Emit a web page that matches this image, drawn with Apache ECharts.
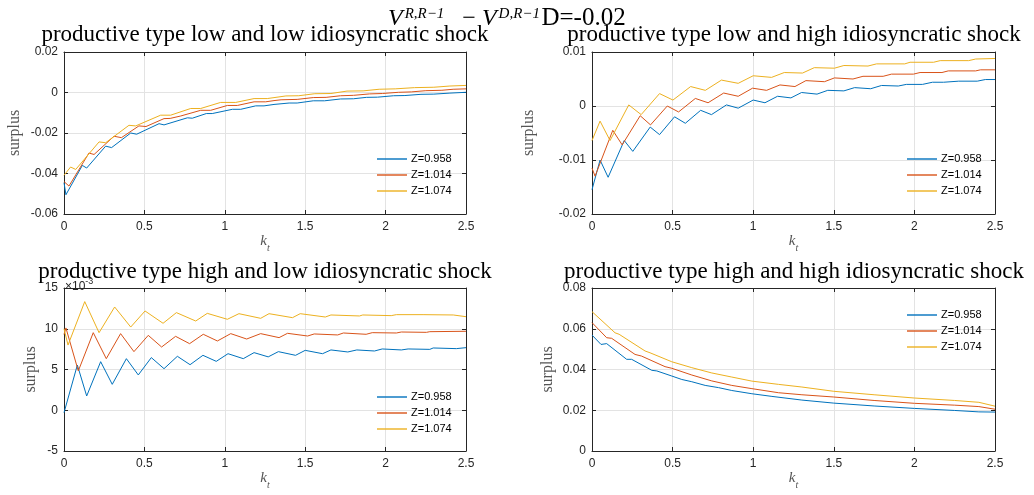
<!DOCTYPE html>
<html>
<head>
<meta charset="utf-8">
<script src="https://cdn.jsdelivr.net/npm/echarts@6/dist/echarts.min.js"></script>
<style>
  html, body { margin: 0; padding: 0; background: #fff; }
  #main { width: 1034px; height: 495px; }
</style>
</head>
<body>
<div id="main"></div>
<script>
  // legend names and MATLAB default line colours
  const zNames = ['Z=0.958', 'Z=1.014', 'Z=1.074']
  const zColors = ['#0072bd', '#d95319', '#edb120']

  const panelTitles = [
    'productive type low and low idiosyncratic shock',
    'productive type low and high idiosyncratic shock',
    'productive type high and low idiosyncratic shock',
    'productive type high and high idiosyncratic shock'
  ]

  // [k_t, surplus] pairs
  // low / low
  const lowLow0958 = [[0, -0.0445], [0.012, -0.0505], [0.114, -0.0360], [0.141, -0.0373], [0.259, -0.0265], [0.296, -0.0272],
    [0.415, -0.0200], [0.452, -0.0206], [0.591, -0.0154], [0.622, -0.0160], [0.767, -0.0125], [0.798, -0.0127],
    [0.885, -0.0104], [0.922, -0.0104], [1.047, -0.0083], [1.099, -0.0083], [1.192, -0.0066], [1.244, -0.0066],
    [1.306, -0.0059], [1.40, -0.0052], [1.45, -0.0052], [1.55, -0.0041], [1.62, -0.0041], [1.72, -0.0032],
    [1.80, -0.0031], [1.88, -0.0024], [1.95, -0.0023], [2.05, -0.0016], [2.12, -0.0015], [2.22, -0.0009],
    [2.30, -0.0008], [2.40, -0.0003], [2.5, 0.0001]]
  const lowLow1014 = [[0, -0.0440], [0.031, -0.0462], [0.155, -0.0299], [0.187, -0.0306], [0.311, -0.0216], [0.357, -0.0223],
    [0.466, -0.0165], [0.51, -0.0168], [0.622, -0.0129], [0.66, -0.0128], [0.726, -0.0116], [0.85, -0.0088],
    [0.912, -0.0088], [1.016, -0.0064], [1.078, -0.0064], [1.182, -0.0046], [1.254, -0.0046], [1.306, -0.0040],
    [1.35, -0.0036], [1.45, -0.0034], [1.55, -0.0025], [1.63, -0.0024], [1.72, -0.0016], [1.80, -0.0014],
    [1.90, -0.0007], [1.98, -0.0005], [2.08, 0.0001], [2.16, 0.0003], [2.25, 0.0009], [2.35, 0.0011],
    [2.42, 0.0016], [2.5, 0.0018]]
  const lowLow1074 = [[0, -0.0409], [0.041, -0.0368], [0.073, -0.0380], [0.218, -0.0244], [0.259, -0.0248], [0.404, -0.0162],
    [0.446, -0.0165], [0.601, -0.0112], [0.663, -0.0112], [0.788, -0.0079], [0.85, -0.0079], [0.974, -0.0049],
    [1.068, -0.0049], [1.182, -0.0030], [1.264, -0.0030], [1.38, -0.0017], [1.46, -0.0016], [1.56, -0.0006],
    [1.66, -0.0005], [1.76, 0.0007], [1.86, 0.0008], [1.96, 0.0016], [2.06, 0.0018], [2.18, 0.0024],
    [2.30, 0.0026], [2.40, 0.0032], [2.5, 0.0035]]

  // low / high
  const lowHigh0958 = [[0, -0.0155], [0.05, -0.0100], [0.10, -0.0132], [0.20, -0.0064], [0.253, -0.0084], [0.361, -0.0039],
    [0.419, -0.0053], [0.512, -0.0020], [0.579, -0.0032], [0.674, -0.0008], [0.741, -0.0016], [0.834, 0.0002],
    [0.907, -0.0004], [1.0, 0.0011], [1.073, 0.0006], [1.151, 0.0018], [1.234, 0.0015], [1.30, 0.0025],
    [1.396, 0.0022], [1.4625, 0.0029], [1.5625, 0.0028], [1.629, 0.0034], [1.729, 0.0032], [1.796, 0.0038],
    [1.90, 0.0037], [1.95, 0.0040], [2.05, 0.0040], [2.112, 0.0044], [2.181, 0.0044], [2.275, 0.0046],
    [2.39, 0.0046], [2.44, 0.0049], [2.5, 0.0049]]
  const lowHigh1014 = [[0, -0.0115], [0.019, -0.0130], [0.129, -0.0045], [0.187, -0.0072], [0.299, -0.0018], [0.363, -0.0035],
    [0.467, 0.0], [0.537, -0.0011], [0.641, 0.0014], [0.72, 0.0006], [0.817, 0.0024], [0.907, 0.0018],
    [0.996, 0.0033], [1.083, 0.0029], [1.166, 0.0039], [1.259, 0.0036], [1.327, 0.0047], [1.442, 0.0045],
    [1.504, 0.0052], [1.619, 0.0050], [1.681, 0.0055], [1.806, 0.0055], [1.858, 0.0059], [1.994, 0.0059],
    [2.035, 0.0062], [2.171, 0.0062], [2.21, 0.0065], [2.38, 0.0065], [2.41, 0.0067], [2.5, 0.0067]]
  const lowHigh1074 = [[0, -0.0064], [0.05, -0.0028], [0.112, -0.0064], [0.228, 0.0002], [0.305, -0.0016], [0.419, 0.0023],
    [0.502, 0.0011], [0.612, 0.0036], [0.703, 0.0029], [0.803, 0.0048], [0.907, 0.0042], [1.0, 0.0056],
    [1.114, 0.0053], [1.193, 0.0062], [1.306, 0.0061], [1.379, 0.0071], [1.504, 0.0070], [1.5625, 0.0075],
    [1.712, 0.0074], [1.765, 0.0078], [1.94, 0.0078], [1.973, 0.0081], [2.119, 0.0081], [2.16, 0.0084],
    [2.337, 0.0084], [2.38, 0.0087], [2.5, 0.0088]]

  // high / low  (units of 1e-3)
  const highLow0958 = [[0, -0.3], [0.083, 5.55], [0.141, 1.75], [0.228, 5.96], [0.30, 3.18], [0.388, 6.33], [0.462, 4.33],
    [0.543, 6.46], [0.622, 5.10], [0.705, 6.62], [0.784, 5.59], [0.864, 6.74], [0.947, 6.0], [1.02, 6.94],
    [1.115, 6.33], [1.182, 7.07], [1.27, 6.55], [1.333, 7.19], [1.44, 6.74], [1.5, 7.35], [1.608, 6.94],
    [1.66, 7.40], [1.765, 7.15], [1.821, 7.40], [1.931, 7.27], [1.979, 7.52], [2.098, 7.40], [2.14, 7.52],
    [2.275, 7.47], [2.296, 7.64], [2.44, 7.56], [2.5, 7.68]]
  const highLow1014 = [[0, 9.3], [0.012, 10.1], [0.089, 4.82], [0.182, 9.52], [0.263, 6.33], [0.352, 9.40], [0.435, 7.19],
    [0.524, 9.19], [0.607, 7.76], [0.694, 9.07], [0.781, 8.17], [0.866, 9.32], [0.954, 8.50], [1.037, 9.40],
    [1.136, 8.74], [1.223, 9.40], [1.3375, 8.91], [1.39, 9.44], [1.515, 9.11], [1.556, 9.36], [1.702, 9.24],
    [1.7375, 9.48], [1.879, 9.32], [1.917, 9.52], [2.067, 9.48], [2.098, 9.60], [2.254, 9.56], [2.275, 9.64],
    [2.5, 9.69]]
  const highLow1074 = [[0, 10.0], [0.025, 8.0], [0.129, 13.33], [0.218, 9.52], [0.315, 12.67], [0.415, 10.21], [0.504, 12.18],
    [0.616, 10.67], [0.699, 11.98], [0.819, 10.95], [0.891, 11.89], [1.016, 11.16], [1.088, 11.85], [1.223, 11.28],
    [1.275, 11.85], [1.421, 11.36], [1.469, 11.85], [1.625, 11.44], [1.66, 11.69], [1.8375, 11.57], [1.858, 11.69],
    [2.035, 11.61], [2.067, 11.73], [2.233, 11.73], [2.421, 11.69], [2.5, 11.48]]

  // high / high
  const highHigh0958 = [[0, 0.0569], [0.056, 0.0523], [0.091, 0.0527], [0.215, 0.0450], [0.246, 0.0450], [0.371, 0.0396],
    [0.402, 0.0393], [0.495, 0.0368], [0.557, 0.0351], [0.619, 0.0340], [0.702, 0.0322], [0.785, 0.0311],
    [0.867, 0.0297], [0.992, 0.0281], [1.116, 0.0268], [1.302, 0.0250], [1.5, 0.0235], [1.75, 0.0221],
    [2.0, 0.0209], [2.25, 0.0199], [2.4, 0.0192], [2.5, 0.0191]]
  const highHigh1014 = [[0, 0.0630], [0.091, 0.0556], [0.122, 0.0553], [0.267, 0.0474], [0.307, 0.0466], [0.453, 0.0414],
    [0.495, 0.0406], [0.619, 0.0373], [0.743, 0.0344], [0.867, 0.0322], [0.992, 0.0306], [1.157, 0.0286],
    [1.302, 0.0276], [1.5, 0.0265], [1.75, 0.0248], [2.0, 0.0234], [2.25, 0.0225], [2.4, 0.0218], [2.5, 0.0205]]
  const highHigh1074 = [[0, 0.0684], [0.143, 0.0580], [0.168, 0.0573], [0.329, 0.0491], [0.36, 0.0482], [0.495, 0.0438],
    [0.619, 0.0409], [0.743, 0.0383], [0.867, 0.0363], [0.992, 0.0343], [1.157, 0.0327], [1.302, 0.0314],
    [1.5, 0.0293], [1.75, 0.0276], [2.0, 0.0260], [2.25, 0.0248], [2.4, 0.0239], [2.5, 0.0220]]

  const panelData = [
    [lowLow0958, lowLow1014, lowLow1074],
    [lowHigh0958, lowHigh1014, lowHigh1074],
    [highLow0958, highLow1014, highLow1074],
    [highHigh0958, highHigh1014, highHigh1074]
  ]

  // y ranges per panel
  const yMin = [-0.06, -0.02, -5, 0]
  const yMax = [0.02, 0.01, 15, 0.08]
  const yStep = [0.02, 0.01, 5, 0.02]

  const axisColor = '#262626'
  const gridColor = '#e3e3e3'
  const sansFont = 'Liberation Sans'
  const serifFont = 'Liberation Serif'

  const layout = [
    {grid: {left: 64, top: 52, width: 402, height: 162}, nameGap: 41, legend: {left: 377, top: 153}, titleX: 265, titleY: 35},
    {grid: {left: 592, top: 52, width: 403, height: 162}, nameGap: 55, legend: {left: 907, top: 153}, titleX: 794, titleY: 35},
    {grid: {left: 64, top: 288, width: 402, height: 163}, nameGap: 25, legend: {left: 377, top: 391}, titleX: 265, titleY: 272},
    {grid: {left: 592, top: 288, width: 403, height: 163}, nameGap: 36, legend: {left: 907, top: 309}, titleX: 794, titleY: 272}
  ]

  function boxAxis(pos, gridIndex, min, max, interval) {
    return {
      type: 'value', gridIndex: gridIndex, position: pos, min: min, max: max, interval: interval,
      axisLine: {show: true, onZero: false, lineStyle: {color: axisColor, width: 1}},
      axisTick: {show: true, inside: true, length: 4, lineStyle: {color: axisColor}},
      axisLabel: {show: false},
      splitLine: {show: false}
    }
  }

  let grids = [], xAxes = [], yAxes = [], series = [], legends = [], graphics = []

  layout.forEach((p, i) => {
    grids.push(Object.assign({containLabel: false}, p.grid))
    xAxes.push({
      type: 'value', gridIndex: i, position: 'bottom', min: 0, max: 2.5, interval: 0.5,
      name: '{k|k}{t|t}', nameLocation: 'middle', nameGap: 19,
      nameTextStyle: {
        rich: {
          k: {fontFamily: serifFont, fontStyle: 'italic', fontSize: 15, color: '#555', verticalAlign: 'top', lineHeight: 15},
          t: {fontFamily: serifFont, fontStyle: 'italic', fontSize: 10, color: '#555', verticalAlign: 'bottom', lineHeight: 19}
        }
      },
      axisLine: {show: true, onZero: false, lineStyle: {color: axisColor, width: 1}},
      axisTick: {show: true, inside: true, length: 4, lineStyle: {color: axisColor}},
      axisLabel: {color: axisColor, fontFamily: sansFont, fontSize: 12, margin: 7},
      splitLine: {show: true, lineStyle: {color: gridColor, width: 1}}
    })
    xAxes.push(boxAxis('top', i, 0, 2.5, 0.5))
    yAxes.push({
      type: 'value', gridIndex: i, position: 'left', min: yMin[i], max: yMax[i], interval: yStep[i],
      name: 'surplus', nameLocation: 'middle', nameGap: p.nameGap,
      nameTextStyle: {fontFamily: serifFont, fontSize: 16, color: '#555'},
      axisLine: {show: true, onZero: false, lineStyle: {color: axisColor, width: 1}},
      axisTick: {show: true, inside: true, length: 4, lineStyle: {color: axisColor}},
      axisLabel: {color: axisColor, fontFamily: sansFont, fontSize: 12, margin: 6},
      splitLine: {show: true, lineStyle: {color: gridColor, width: 1}}
    })
    yAxes.push(boxAxis('right', i, yMin[i], yMax[i], yStep[i]))

    panelData[i].forEach((d, j) => {
      series.push({
        name: zNames[j], type: 'line', xAxisIndex: 2 * i, yAxisIndex: 2 * i,
        data: d, symbol: 'none', showSymbol: false, animation: false,
        lineStyle: {color: zColors[j], width: 1}, itemStyle: {color: zColors[j]}
      })
    })

    // plain line sample, no marker, like the MATLAB legend
    legends.push({
      left: p.legend.left, top: p.legend.top, orient: 'vertical', padding: 0, itemGap: 4,
      icon: 'rect', itemWidth: 30, itemHeight: 1.4, data: zNames, selectedMode: false,
      textStyle: {fontFamily: sansFont, fontSize: 11, color: '#000', lineHeight: 12, padding: [0, 0, 0, -1]}
    })

    graphics.push({
      type: 'text', x: p.titleX, y: p.titleY, z: 10,
      style: {
        text: panelTitles[i], fill: '#000', align: 'center', verticalAlign: 'middle',
        font: '23px "' + serifFont + '"'
      }
    })
  })

  // exponent label of the third panel, partly hidden by its title
  graphics.push({
    type: 'text', x: 65, y: 277, z: 5,
    style: {
      text: '{a|×10}{b|-3}', fill: '#262626',
      rich: {
        a: {fontFamily: sansFont, fontSize: 12, verticalAlign: 'bottom', lineHeight: 16},
        b: {fontFamily: sansFont, fontSize: 9, verticalAlign: 'top', lineHeight: 10}
      }
    }
  })

  // overall title
  graphics.push({
    type: 'text', x: 388, y: 3, z: 10,
    style: {
      text: '{v|V}{s|R,R−1}{o|−}{v|V}{s|D,R−1}{m| }{d|D=-0.02}', fill: '#000',
      rich: {
        v: {fontFamily: serifFont, fontStyle: 'italic', fontSize: 24, verticalAlign: 'bottom', lineHeight: 28},
        s: {fontFamily: serifFont, fontStyle: 'italic', fontSize: 15, verticalAlign: 'top', lineHeight: 15, padding: [4, 0, 0, 2]},
        o: {fontFamily: serifFont, fontSize: 24, verticalAlign: 'bottom', lineHeight: 28, padding: [0, 6, 0, 18]},
        m: {fontFamily: serifFont, fontSize: 6, verticalAlign: 'bottom', lineHeight: 28},
        d: {fontFamily: serifFont, fontSize: 25, verticalAlign: 'bottom', lineHeight: 28}
      }
    }
  })

  let chart = echarts.init(document.getElementById('main'))
  chart.setOption({
    backgroundColor: '#fff',
    animation: false,
    grid: grids,
    xAxis: xAxes,
    yAxis: yAxes,
    legend: legends,
    series: series,
    graphic: graphics
  })
</script>
</body>
</html>
